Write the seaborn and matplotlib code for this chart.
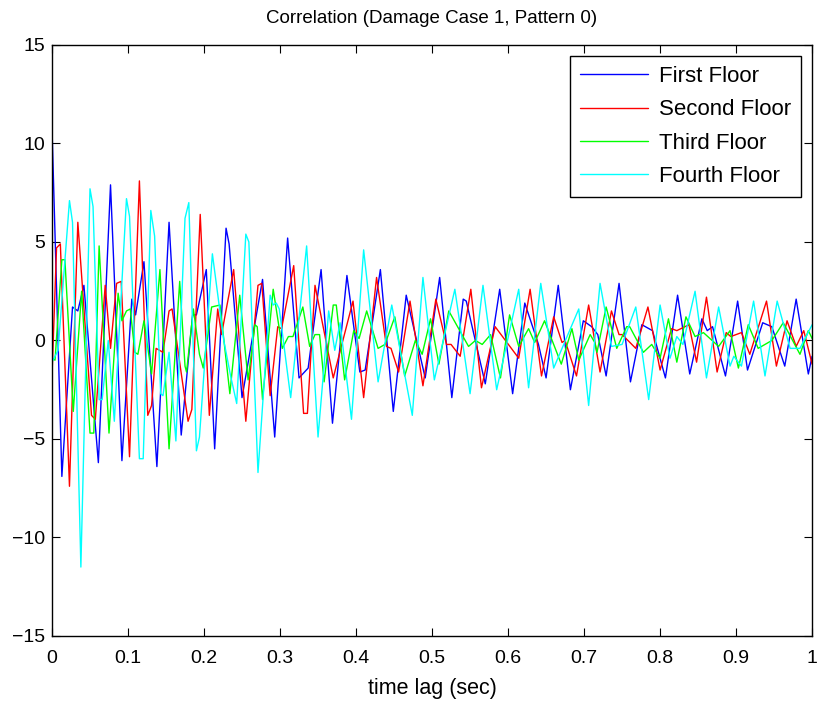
import matplotlib
matplotlib.use("Agg")
import matplotlib.pyplot as plt
import seaborn as sns

# ---- data (turning points of each trace) ----
first_t = [0.000, 0.013, 0.027, 0.034, 0.042, 0.061, 0.077, 0.092, 0.105, 0.110, 0.121, 0.138, 0.154,
           0.170, 0.185, 0.190, 0.203, 0.214, 0.229, 0.233, 0.250, 0.277, 0.293, 0.310, 0.325, 0.337,
           0.354, 0.369, 0.388, 0.405, 0.412, 0.432, 0.449, 0.466, 0.491, 0.510, 0.526, 0.541, 0.545,
           0.570, 0.589, 0.606, 0.622, 0.640, 0.650, 0.666, 0.682, 0.699, 0.710, 0.718, 0.729, 0.746,
           0.761, 0.776, 0.790, 0.807, 0.823, 0.839, 0.855, 0.862, 0.869, 0.886, 0.902, 0.915, 0.935,
           0.947, 0.964, 0.979, 0.995, 1.000]
first_v = [10.8, -6.9, 1.7, 1.5, 2.8, -6.2, 7.9, -6.1, 2.1, 1.3, 4.0, -6.4, 6.0,
           -4.8, 1.3, 1.3, 3.6, -5.5, 5.7, 4.9, -2.9, 3.1, -4.9, 5.2, -1.9, -1.4,
           3.6, -4.2, 3.3, -1.6, -1.5, 3.6, -3.6, 2.3, -1.9, 3.2, -2.9, 2.1, 2.0,
           -2.2, 2.6, -2.7, 1.9, -0.2, -1.9, 2.8, -2.5, 1.0, 0.7, 0.3, -1.8, 2.9,
           -2.1, 0.8, 0.5, -1.9, 2.3, -1.7, 1.1, 0.5, 0.7, -1.8, 2.0, -1.5, 0.9,
           0.7, -1.3, 2.1, -1.7, -0.8]

second_t = [0.000, 0.006, 0.011, 0.023, 0.034, 0.052, 0.057, 0.070, 0.077, 0.085, 0.091, 0.102, 0.115,
            0.126, 0.131, 0.137, 0.146, 0.154, 0.158, 0.179, 0.184, 0.195, 0.207, 0.218, 0.223, 0.239,
            0.255, 0.271, 0.276, 0.287, 0.297, 0.302, 0.318, 0.331, 0.336, 0.346, 0.370, 0.396, 0.410,
            0.427, 0.440, 0.446, 0.456, 0.471, 0.488, 0.505, 0.519, 0.525, 0.537, 0.551, 0.565, 0.583,
            0.614, 0.629, 0.644, 0.660, 0.671, 0.675, 0.690, 0.706, 0.721, 0.736, 0.746, 0.750, 0.768,
            0.784, 0.800, 0.815, 0.822, 0.838, 0.848, 0.861, 0.875, 0.887, 0.893, 0.907, 0.918, 0.940,
            0.953, 0.967, 0.979, 0.989, 1.000]
second_v = [-1.8, 4.7, 4.9, -7.4, 6.0, -3.8, -4.0, 2.8, -0.4, 2.9, 3.0, -5.9, 8.1,
            -3.8, -3.3, -0.4, -0.6, 1.5, 1.6, -4.1, -3.5, 6.4, -3.8, 1.6, 0.3, 3.6,
            -4.1, 2.8, 2.9, -2.8, 0.7, 0.6, 3.8, -3.7, -3.7, 2.8, -1.9, 2.0, -2.9,
            3.2, -0.3, -0.4, -1.6, 2.0, -2.3, 2.1, -0.2, -0.2, -0.8, 2.6, -2.4, 0.7,
            -0.9, 2.6, -1.8, 1.2, -0.1, 0.0, -1.8, 1.8, -1.6, 1.5, 0.3, 0.3, -0.4,
            1.7, -1.5, 0.6, 0.5, 0.8, -1.1, 2.2, -1.6, 0.4, 0.2, 0.4, -0.7, 2.0,
            -1.3, 1.0, -0.3, 0.5, -1.2]

third_t = [0.000, 0.004, 0.013, 0.017, 0.028, 0.039, 0.050, 0.055, 0.062, 0.075, 0.087, 0.092, 0.098,
           0.103, 0.109, 0.113, 0.121, 0.131, 0.142, 0.154, 0.168, 0.175, 0.177, 0.186, 0.194, 0.199,
           0.210, 0.221, 0.234, 0.247, 0.258, 0.267, 0.270, 0.277, 0.291, 0.303, 0.311, 0.317, 0.330,
           0.339, 0.346, 0.352, 0.358, 0.370, 0.374, 0.385, 0.397, 0.404, 0.414, 0.429, 0.438, 0.451,
           0.464, 0.478, 0.487, 0.498, 0.509, 0.522, 0.548, 0.557, 0.566, 0.577, 0.590, 0.602, 0.614,
           0.627, 0.635, 0.648, 0.670, 0.684, 0.693, 0.708, 0.714, 0.717, 0.729, 0.743, 0.756, 0.760,
           0.778, 0.789, 0.800, 0.811, 0.822, 0.834, 0.846, 0.857, 0.877, 0.892, 0.903, 0.916, 0.929,
           0.947, 0.962, 0.984, 0.995, 1.000]
third_v = [-0.9, -1.0, 4.1, 4.1, -3.6, 2.5, -4.7, -4.7, 4.8, -4.7, 2.4, 1.0, 1.5,
           1.6, -0.6, -0.7, 1.0, -1.7, 3.6, -5.5, 3.0, -1.3, -1.6, 1.6, -0.7, -1.4,
           1.7, 1.8, -2.7, 2.3, -2.0, 0.8, 0.7, -3.0, 2.6, -0.4, 0.2, 0.2, 1.7,
           -0.3, 0.3, 0.3, -2.1, 1.8, 1.8, -2.0, 0.5, 0.1, 1.5, -0.4, -0.2, 1.2,
           -1.8, 0.0, -0.7, 1.1, -1.2, 1.5, -0.3, 0.0, -0.2, 0.3, -1.9, 1.3, -0.3,
           0.6, -0.1, 1.0, -1.2, 0.6, -1.0, 0.3, -0.1, -0.6, 1.7, -0.4, 0.7, 0.7,
           -0.6, -0.2, -0.9, 1.1, -1.1, 1.2, 0.2, 0.4, -0.3, 0.5, -1.4, 0.8, -0.4,
           0.0, 0.9, -0.7, 0.5, 0.1]

fourth_t = [0.000, 0.008, 0.023, 0.027, 0.038, 0.050, 0.054, 0.062, 0.066, 0.074, 0.082, 0.098, 0.102,
            0.115, 0.120, 0.130, 0.135, 0.143, 0.146, 0.154, 0.163, 0.175, 0.180, 0.190, 0.194, 0.211,
            0.226, 0.235, 0.243, 0.255, 0.259, 0.271, 0.287, 0.291, 0.295, 0.299, 0.314, 0.335, 0.350,
            0.364, 0.372, 0.379, 0.394, 0.410, 0.429, 0.447, 0.474, 0.488, 0.503, 0.530, 0.550, 0.567,
            0.585, 0.614, 0.627, 0.643, 0.660, 0.693, 0.706, 0.721, 0.736, 0.750, 0.768, 0.785, 0.800,
            0.813, 0.822, 0.830, 0.846, 0.861, 0.877, 0.892, 0.897, 0.907, 0.923, 0.938, 0.954, 0.971,
            0.984, 1.000]
fourth_v = [-1.1, -0.5, 7.1, 6.0, -11.5, 7.7, 6.8, -3.0, -3.0, 0.0, -4.1, 7.2, 6.3,
            -6.0, -6.0, 6.6, 5.3, -2.7, -2.8, -0.6, -5.1, 6.2, 7.0, -5.6, -4.9, 4.4,
            0.0, -1.8, -3.2, 5.4, 5.0, -6.7, 2.3, 1.8, 1.9, 1.6, -2.9, 4.8, -4.9,
            1.5, -0.5, 0.9, -4.0, 4.6, -2.1, 1.8, -3.8, 3.2, -2.0, 2.6, -2.7, 2.8,
            -2.5, 2.6, -2.4, 2.9, -1.4, 1.6, -3.3, 2.9, -0.3, -0.2, 1.7, -3.0, 1.8,
            -0.9, 0.2, -0.2, 2.5, -1.9, 1.7, -1.3, -0.8, -1.3, 2.0, -1.8, 2.0, -0.4,
            -0.4, 0.8]

series = [
    ("First Floor", first_t, first_v, "#0000FF"),
    ("Second Floor", second_t, second_v, "#FF0000"),
    ("Third Floor", third_t, third_v, "#00FF00"),
    ("Fourth Floor", fourth_t, fourth_v, "#00FFFF"),
]

sns.set_theme(style="white")
plt.rcParams["font.family"] = ["Liberation Sans", "DejaVu Sans"]
plt.rcParams["xtick.direction"] = "in"
plt.rcParams["ytick.direction"] = "in"
for key in ["text.color", "axes.labelcolor", "xtick.color", "ytick.color", "axes.edgecolor"]:
    plt.rcParams[key] = "black"

fig = plt.figure(figsize=(8.2, 7.04), dpi=100)
ax = fig.add_axes([0.0634, 0.0966, 0.927, 0.8395])

for name, t, v, color in series:
    sns.lineplot(x=t, y=v, ax=ax, color=color, label=name, linewidth=1.0,
                 sort=False, estimator=None)

ax.set_xlim(0, 1)
ax.set_ylim(-15, 15)
ax.set_xticks([i / 10 for i in range(11)])
ax.set_xticklabels(["0"] + [f"0.{i}" for i in range(1, 10)] + ["1"])
ax.set_yticks(range(-15, 16, 5))
ax.tick_params(axis="both", labelsize=14, length=6, width=0.8, colors="black",
               top=True, right=True, bottom=True, left=True)
ax.tick_params(axis="x", pad=10)
ax.tick_params(axis="y", pad=5)
for s in ax.spines.values():
    s.set_color("black")
    s.set_linewidth(1.0)

ax.set_title("Correlation (Damage Case 1, Pattern 0)", fontsize=13.5, pad=16, color="black")
ax.set_xlabel("time lag (sec)", fontsize=15.5, labelpad=8, color="black")

leg = ax.legend(loc="upper right", fontsize=16, handlelength=3.05, handletextpad=0.5,
                fancybox=False, framealpha=1, edgecolor="black", borderaxespad=0.5,
                labelspacing=0.55, borderpad=0.45)
leg.get_frame().set_linewidth(1.0)
for txt in leg.get_texts():
    txt.set_color("black")

fig.savefig("out.png", dpi=100)
